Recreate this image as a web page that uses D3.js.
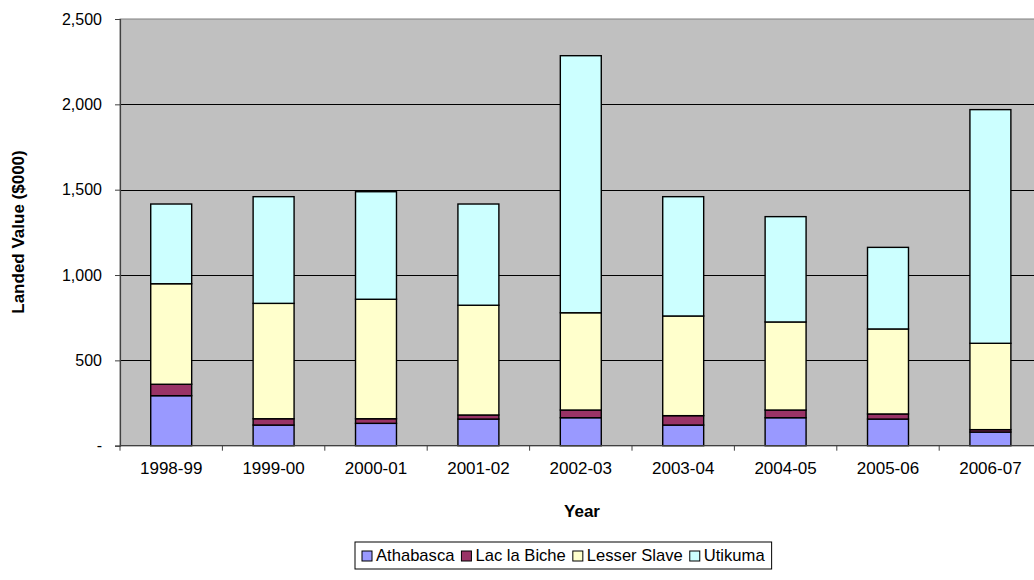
<!DOCTYPE html>
<html><head><meta charset="utf-8">
<script src="https://cdn.jsdelivr.net/npm/d3@7"></script>
<style>body{margin:0;background:#fff}svg{display:block;font-family:Arial,"Liberation Sans",sans-serif}</style>
</head><body><svg id="c" width="1034" height="580"></svg>
<script>
const categories = ["1998-99","1999-00","2000-01","2001-02","2002-03","2003-04","2004-05","2005-06","2006-07"];
const seriesNames = ["Athabasca","Lac la Biche","Lesser Slave","Utikuma"];
const athabasca   = [293,121,131,156,164,121,164,156,80];
const lacLaBiche  = [67,37,27,24,45,55,45,30,14];
const lesserSlave = [589,676,700,643,570,584,516,498,506];
const utikuma     = [467,625,630,593,1506,699,617,478,1369];
const yTicks = [0,500,1000,1500,2000,2500];
const colors = ["#9999FF","#993366","#FFFFCC","#CCFFFF"];

const svg = d3.select("#c");
const m = {l:120, t:19, r:1041.6, b:445.7};
const x = d3.scaleBand().domain(categories).range([m.l, m.r]).paddingInner(0.6).paddingOuter(0.3);
const xb = d3.scaleBand().domain(categories).range([m.l, m.r]);
const y = d3.scaleLinear().domain([0,2500]).range([m.b, m.t]);

const rows = categories.map((c,i)=>({cat:c, "Athabasca":athabasca[i], "Lac la Biche":lacLaBiche[i], "Lesser Slave":lesserSlave[i], "Utikuma":utikuma[i]}));
const stacked = d3.stack().keys(seriesNames)(rows);

// plot area
svg.append("rect").attr("x",m.l).attr("y",m.t).attr("width",m.r-m.l).attr("height",m.b-m.t)
  .attr("fill","#C0C0C0").attr("stroke","#808080").attr("stroke-width",1);

// gridlines
svg.append("g").selectAll("line").data(yTicks.filter(d=>d>0 && d<2500)).join("line")
  .attr("x1",m.l).attr("x2",m.r).attr("y1",d=>Math.round(y(d))+0.5).attr("y2",d=>Math.round(y(d))+0.5)
  .attr("stroke","#000").attr("stroke-width",1);

// bars
svg.append("g").selectAll("g").data(stacked).join("g").attr("fill",(d,i)=>colors[i])
  .selectAll("rect").data(d=>d).join("rect")
  .attr("x",d=>x(d.data.cat)).attr("width",x.bandwidth())
  .attr("y",d=>y(d[1])).attr("height",d=>y(d[0])-y(d[1]))
  .attr("stroke","#000").attr("stroke-width",1.4);

// y axis
const yAxis = d3.axisLeft(y).tickValues(yTicks).tickSize(5).tickPadding(13)
  .tickFormat(d=> d===0 ? "-" : d3.format(",")(d));
const gy = svg.append("g").attr("transform",`translate(${m.l},0)`).call(yAxis);
gy.select(".domain").attr("stroke","#404040").attr("stroke-width",1.2);
gy.selectAll(".tick line").attr("stroke","#404040");
gy.selectAll("text").attr("font-size",16).attr("fill","#000").attr("font-family","Arial,'Liberation Sans',sans-serif");

// x axis
const gx = svg.append("g").attr("transform",`translate(0,${m.b})`);
gx.append("line").attr("x1",m.l).attr("x2",m.r).attr("y1",0).attr("y2",0).attr("stroke","#404040").attr("stroke-width",1.2);
gx.selectAll("line.t").data(categories.concat(["end"])).join("line").attr("class","t")
  .attr("x1",(d,i)=> i<categories.length ? xb(d) : m.r).attr("x2",(d,i)=> i<categories.length ? xb(d) : m.r)
  .attr("y1",0).attr("y2",5).attr("stroke","#404040");
gx.selectAll("text").data(categories).join("text")
  .attr("x",d=>xb(d)+xb.bandwidth()/2).attr("y",28).attr("text-anchor","middle")
  .attr("font-size",17).text(d=>d);

// axis titles
svg.append("text").attr("x",582).attr("y",517).attr("text-anchor","middle")
  .attr("font-size",17).attr("font-weight","bold").text("Year");
svg.append("text").attr("transform","translate(24,232) rotate(-90)").attr("text-anchor","middle")
  .attr("font-size",17).attr("font-weight","bold").text("Landed Value ($000)");

// legend
const lg = svg.append("g");
const lgBox = lg.append("rect").attr("y",542).attr("height",27).attr("fill","#fff").attr("stroke","#000").attr("stroke-width",1);
let cx = 362;
seriesNames.forEach((n,i)=>{
  lg.append("rect").attr("x",cx).attr("y",551).attr("width",10).attr("height",10).attr("fill",colors[i]).attr("stroke","#000");
  const t = lg.append("text").attr("x",cx+14).attr("y",561).attr("font-size",16.6).text(n);
  cx += 14 + t.node().getComputedTextLength() + 7;
});
lgBox.attr("x",355).attr("width",cx-355);
</script></body></html>
